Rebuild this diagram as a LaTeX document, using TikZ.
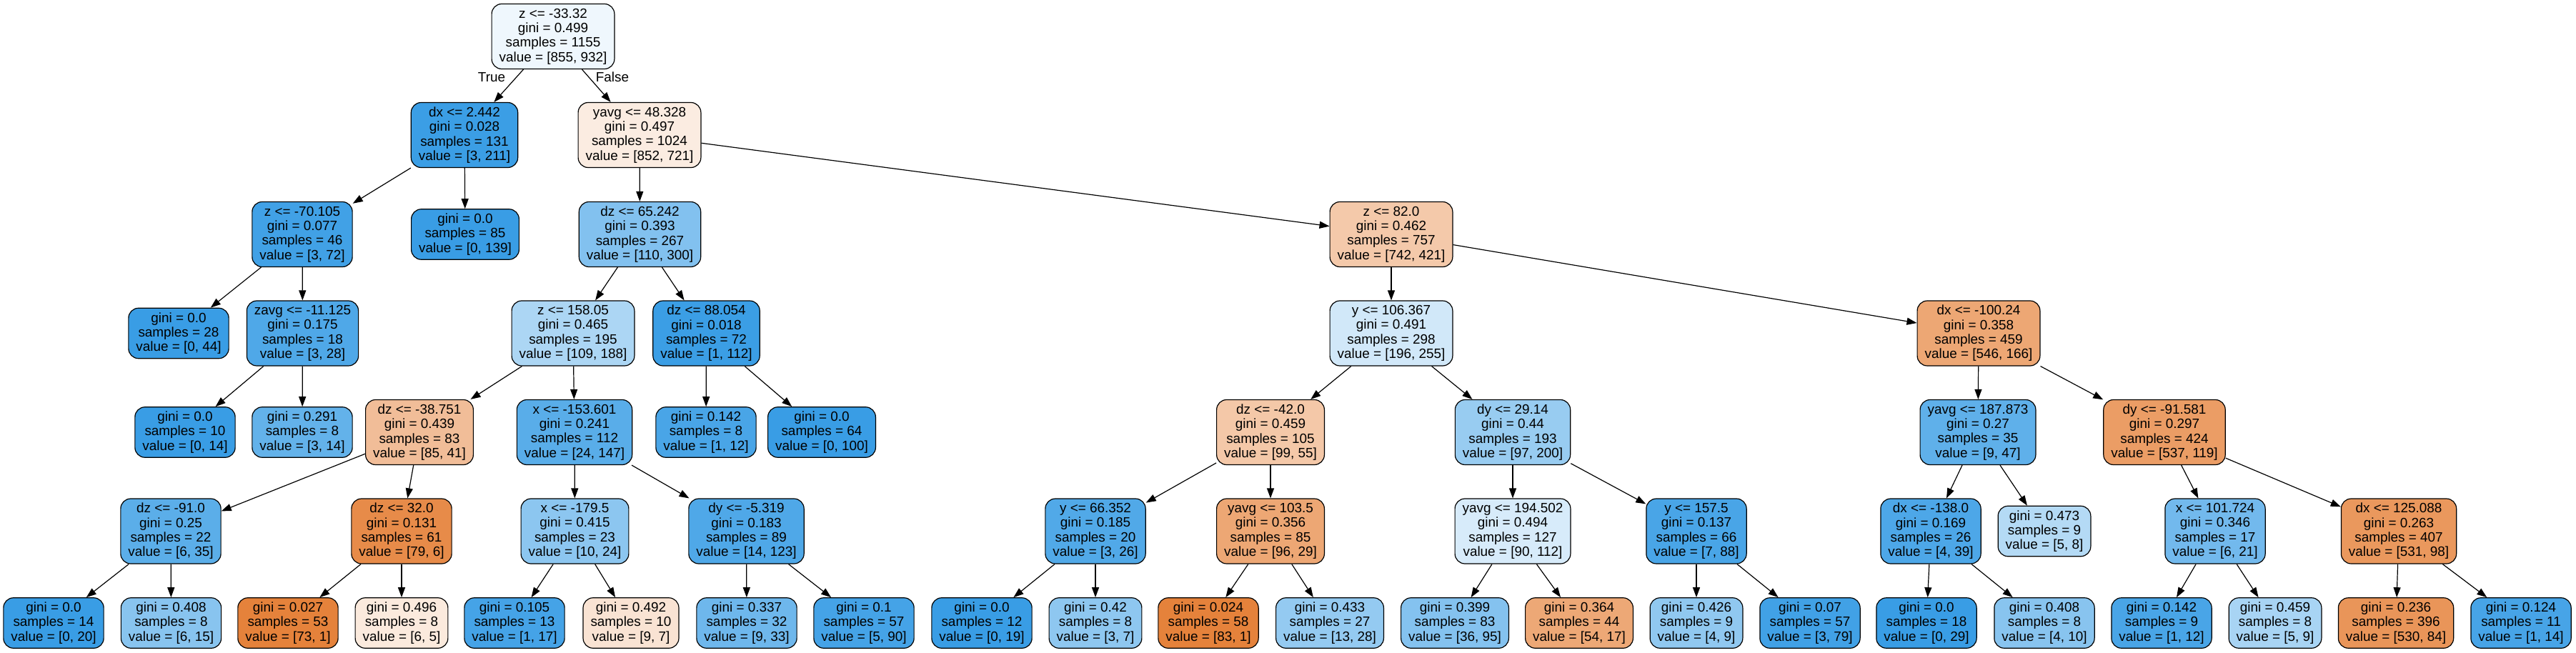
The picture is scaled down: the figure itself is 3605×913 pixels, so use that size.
\documentclass[tikz,border=0pt]{standalone}
\usepackage{fontspec}
\setmainfont{Liberation Sans}
\usetikzlibrary{arrows.meta}
\definecolor{cO}{RGB}{229,129,57}
\definecolor{cB}{RGB}{57,157,229}
\begin{document}
\begin{tikzpicture}[x=1pt,y=-1pt,
  tn/.style={draw=black, line width=1.2pt, rounded corners=14pt, align=center,
    inner xsep=10.5pt, inner ysep=0pt, font=\fontsize{18.9}{20.3}\selectfont},
  dn/.style={tn, minimum height=91pt},
  lf/.style={tn, minimum height=70.5pt},
  ed/.style={line width=1.2pt, -{Triangle[length=14pt,width=10pt]}},
  lab/.style={font=\fontsize{18.9}{20.3}\selectfont, inner sep=0pt}]
\fill[white] (0,0) rectangle (3605,913);
\useasboundingbox (0,0) rectangle (3605,913);
% level 0
\node[dn, fill=cB!8!white] (root) at (774,51) {z <= -33.32\\gini = 0.499\\samples = 1155\\value = [855, 932]};
% level 1
\node[dn, fill=cB!99!white] (n1) at (650,189) {dx <= 2.442\\gini = 0.028\\samples = 131\\value = [3, 211]};
\node[dn, fill=cO!15!white] (n2) at (895,189) {yavg <= 48.328\\gini = 0.497\\samples = 1024\\value = [852, 721]};
% level 2
\node[dn, fill=cB!96!white] (n3) at (423,328) {z <= -70.105\\gini = 0.077\\samples = 46\\value = [3, 72]};
\node[lf, fill=cB] (n4) at (651,328) {gini = 0.0\\samples = 85\\value = [0, 139]};
\node[dn, fill=cB!63!white] (n5) at (895.5,328) {dz <= 65.242\\gini = 0.393\\samples = 267\\value = [110, 300]};
\node[dn, fill=cO!43!white] (n6) at (1947,328) {z <= 82.0\\gini = 0.462\\samples = 757\\value = [742, 421]};
% level 3
\node[lf, fill=cB] (n7) at (250,466.5) {gini = 0.0\\samples = 28\\value = [0, 44]};
\node[dn, fill=cB!89!white] (n8) at (423.5,466.5) {zavg <= -11.125\\gini = 0.175\\samples = 18\\value = [3, 28]};
\node[dn, fill=cB!42!white] (n9) at (802,466.5) {z <= 158.05\\gini = 0.465\\samples = 195\\value = [109, 188]};
\node[dn, fill=cB!99!white] (n10) at (988.5,466.5) {dz <= 88.054\\gini = 0.018\\samples = 72\\value = [1, 112]};
\node[dn, fill=cB!23!white] (n11) at (1947,466.5) {y <= 106.367\\gini = 0.491\\samples = 298\\value = [196, 255]};
\node[dn, fill=cO!70!white] (n12) at (2769,466.5) {dx <= -100.24\\gini = 0.358\\samples = 459\\value = [546, 166]};
% level 4
\node[lf, fill=cB] (n13) at (259,605) {gini = 0.0\\samples = 10\\value = [0, 14]};
\node[lf, fill=cB!79!white] (n14) at (423,605) {gini = 0.291\\samples = 8\\value = [3, 14]};
\node[dn, fill=cO!52!white] (n15) at (587,605) {dz <= -38.751\\gini = 0.439\\samples = 83\\value = [85, 41]};
\node[dn, fill=cB!84!white] (n16) at (804,605) {x <= -153.601\\gini = 0.241\\samples = 112\\value = [24, 147]};
\node[lf, fill=cB!92!white] (n17) at (988,605) {gini = 0.142\\samples = 8\\value = [1, 12]};
\node[lf, fill=cB] (n18) at (1150,605) {gini = 0.0\\samples = 64\\value = [0, 100]};
\node[dn, fill=cO!44!white] (n19) at (1778,605) {dz <= -42.0\\gini = 0.459\\samples = 105\\value = [99, 55]};
\node[dn, fill=cB!52!white] (n20) at (2117,605) {dy <= 29.14\\gini = 0.44\\samples = 193\\value = [97, 200]};
\node[dn, fill=cB!81!white] (n21) at (2768,605) {yavg <= 187.873\\gini = 0.27\\samples = 35\\value = [9, 47]};
\node[dn, fill=cO!78!white] (n22) at (3029,605) {dy <= -91.581\\gini = 0.297\\samples = 424\\value = [537, 119]};
% level 5
\node[dn, fill=cB!83!white] (n23) at (239,743.5) {dz <= -91.0\\gini = 0.25\\samples = 22\\value = [6, 35]};
\node[dn, fill=cO!92!white] (n24) at (562,743.5) {dz <= 32.0\\gini = 0.131\\samples = 61\\value = [79, 6]};
\node[dn, fill=cB!58!white] (n25) at (804.5,743.5) {x <= -179.5\\gini = 0.415\\samples = 23\\value = [10, 24]};
\node[dn, fill=cB!89!white] (n26) at (1044.5,743.5) {dy <= -5.319\\gini = 0.183\\samples = 89\\value = [14, 123]};
\node[dn, fill=cB!88!white] (n27) at (1533,743.5) {y <= 66.352\\gini = 0.185\\samples = 20\\value = [3, 26]};
\node[dn, fill=cO!70!white] (n28) at (1778,743.5) {yavg <= 103.5\\gini = 0.356\\samples = 85\\value = [96, 29]};
\node[dn, fill=cB!20!white] (n29) at (2117,743.5) {yavg <= 194.502\\gini = 0.494\\samples = 127\\value = [90, 112]};
\node[dn, fill=cB!92!white] (n30) at (2374,743.5) {y <= 157.5\\gini = 0.137\\samples = 66\\value = [7, 88]};
\node[dn, fill=cB!90!white] (n31) at (2702,743.5) {dx <= -138.0\\gini = 0.169\\samples = 26\\value = [4, 39]};
\node[lf, fill=cB!38!white] (n32) at (2861,743.5) {gini = 0.473\\samples = 9\\value = [5, 8]};
\node[dn, fill=cB!71!white] (n33) at (3100,743.5) {x <= 101.724\\gini = 0.346\\samples = 17\\value = [6, 21]};
\node[dn, fill=cO!82!white] (n34) at (3357,743.5) {dx <= 125.088\\gini = 0.263\\samples = 407\\value = [531, 98]};
% level 6
\node[lf, fill=cB] (l1) at (75,872) {gini = 0.0\\samples = 14\\value = [0, 20]};
\node[lf, fill=cB!60!white] (l2) at (239.5,872) {gini = 0.408\\samples = 8\\value = [6, 15]};
\node[lf, fill=cO!99!white] (l3) at (403,872) {gini = 0.027\\samples = 53\\value = [73, 1]};
\node[lf, fill=cO!17!white] (l4) at (562,872) {gini = 0.496\\samples = 8\\value = [6, 5]};
\node[lf, fill=cB!94!white] (l5) at (720,872) {gini = 0.105\\samples = 13\\value = [1, 17]};
\node[lf, fill=cO!22!white] (l6) at (883,872) {gini = 0.492\\samples = 10\\value = [9, 7]};
\node[lf, fill=cB!73!white] (l7) at (1045,872) {gini = 0.337\\samples = 32\\value = [9, 33]};
\node[lf, fill=cB!94!white] (l8) at (1209,872) {gini = 0.1\\samples = 57\\value = [5, 90]};
\node[lf, fill=cB] (l9) at (1374,872) {gini = 0.0\\samples = 12\\value = [0, 19]};
\node[lf, fill=cB!57!white] (l10) at (1533,872) {gini = 0.42\\samples = 8\\value = [3, 7]};
\node[lf, fill=cO!99!white] (l11) at (1691,872) {gini = 0.024\\samples = 58\\value = [83, 1]};
\node[lf, fill=cB!54!white] (l12) at (1861,872) {gini = 0.433\\samples = 27\\value = [13, 28]};
\node[lf, fill=cB!62!white] (l13) at (2036,872) {gini = 0.399\\samples = 83\\value = [36, 95]};
\node[lf, fill=cO!69!white] (l14) at (2210,872) {gini = 0.364\\samples = 44\\value = [54, 17]};
\node[lf, fill=cB!56!white] (l15) at (2374,872) {gini = 0.426\\samples = 9\\value = [4, 9]};
\node[lf, fill=cB!96!white] (l16) at (2533,872) {gini = 0.07\\samples = 57\\value = [3, 79]};
\node[lf, fill=cB] (l17) at (2696,872) {gini = 0.0\\samples = 18\\value = [0, 29]};
\node[lf, fill=cB!60!white] (l18) at (2861,872) {gini = 0.408\\samples = 8\\value = [4, 10]};
\node[lf, fill=cB!92!white] (l19) at (3025,872) {gini = 0.142\\samples = 9\\value = [1, 12]};
\node[lf, fill=cB!44!white] (l20) at (3184,872) {gini = 0.459\\samples = 8\\value = [5, 9]};
\node[lf, fill=cO!84!white] (l21) at (3353,872) {gini = 0.236\\samples = 396\\value = [530, 84]};
\node[lf, fill=cB!93!white] (l22) at (3528,872) {gini = 0.124\\samples = 11\\value = [1, 14]};
% labels
\node[lab] (tlab) at (688,108) {True};
\node[lab] (flab) at (857,108) {False};
% edges
\draw[ed] (root) -- (n1);
\draw[ed] (root) -- (n2);
\draw[ed] (n1) -- (n3);
\draw[ed] (n1) -- (n4);
\draw[ed] (n3) -- (n7);
\draw[ed] (n3) -- (n8);
\draw[ed] (n8) -- (n13);
\draw[ed] (n8) -- (n14);
\draw[ed] (n2) -- (n5);
\draw[ed] (n2) -- (n6);
\draw[ed] (n5) -- (n9);
\draw[ed] (n5) -- (n10);
\draw[ed] (n9) -- (n15);
\draw[ed] (n9) -- (n16);
\draw[ed] (n15) -- (n23);
\draw[ed] (n15) -- (n24);
\draw[ed] (n23) -- (l1);
\draw[ed] (n23) -- (l2);
\draw[ed] (n24) -- (l3);
\draw[ed] (n24) -- (l4);
\draw[ed] (n16) -- (n25);
\draw[ed] (n16) -- (n26);
\draw[ed] (n25) -- (l5);
\draw[ed] (n25) -- (l6);
\draw[ed] (n26) -- (l7);
\draw[ed] (n26) -- (l8);
\draw[ed] (n10) -- (n17);
\draw[ed] (n10) -- (n18);
\draw[ed] (n6) -- (n11);
\draw[ed] (n6) -- (n12);
\draw[ed] (n11) -- (n19);
\draw[ed] (n11) -- (n20);
\draw[ed] (n19) -- (n27);
\draw[ed] (n19) -- (n28);
\draw[ed] (n27) -- (l9);
\draw[ed] (n27) -- (l10);
\draw[ed] (n28) -- (l11);
\draw[ed] (n28) -- (l12);
\draw[ed] (n20) -- (n29);
\draw[ed] (n20) -- (n30);
\draw[ed] (n29) -- (l13);
\draw[ed] (n29) -- (l14);
\draw[ed] (n30) -- (l15);
\draw[ed] (n30) -- (l16);
\draw[ed] (n12) -- (n21);
\draw[ed] (n12) -- (n22);
\draw[ed] (n21) -- (n31);
\draw[ed] (n21) -- (n32);
\draw[ed] (n31) -- (l17);
\draw[ed] (n31) -- (l18);
\draw[ed] (n22) -- (n33);
\draw[ed] (n22) -- (n34);
\draw[ed] (n33) -- (l19);
\draw[ed] (n33) -- (l20);
\draw[ed] (n34) -- (l21);
\draw[ed] (n34) -- (l22);
\end{tikzpicture}
\end{document}
